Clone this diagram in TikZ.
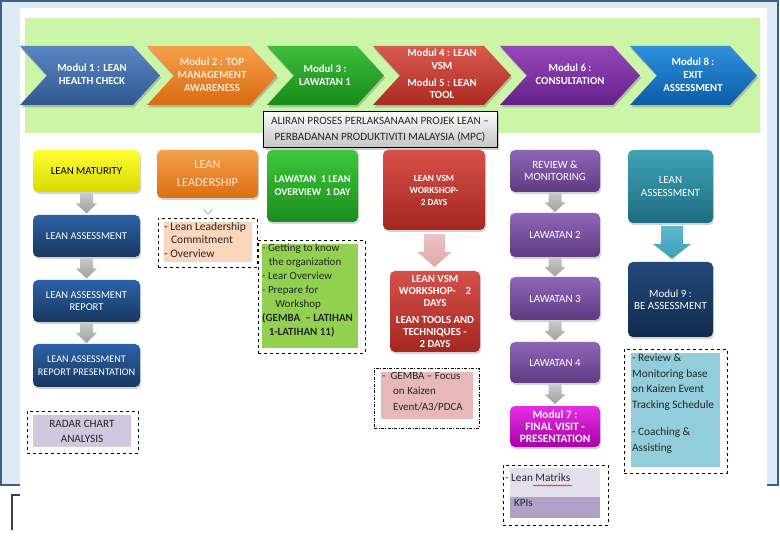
\documentclass[tikz,border=0pt]{standalone}
\usepackage{fontspec}
\setmainfont{Carlito}
\usetikzlibrary{shadows,calc,decorations.pathmorphing}
\definecolor{framebg}{HTML}{DCEAF5}
\definecolor{framebd}{HTML}{3F5F8A}
\definecolor{lgreen}{HTML}{CCF5A8}
\definecolor{txtdark}{HTML}{262626}
\newcommand\defhtml[1]{\definecolor{HTML#1}{HTML}{#1}}
\defhtml{2D62A8}\defhtml{17375E}\defhtml{F5A04A}\defhtml{DD6E12}\defhtml{FDE7D4}
\defhtml{3CC83C}\defhtml{1C8C1C}\defhtml{D6504A}\defhtml{A4271F}\defhtml{9166B8}
\defhtml{5E3A82}\defhtml{E62EE6}\defhtml{A800A8}\defhtml{3FA3B8}\defhtml{1F6C7E}
\defhtml{24497A}\defhtml{112B4D}\defhtml{C8C8C8}\defhtml{A0A0A0}\defhtml{FDE9D9}
\defhtml{FBFBFB}\defhtml{C4C4C4}\defhtml{D3C7DF}\defhtml{7F96B8}\defhtml{FAD6BC}
\defhtml{92D050}\defhtml{EBC4C3}\defhtml{DDA9A8}\defhtml{E6B9B8}\defhtml{E4DFEC}
\defhtml{B1A0C7}\defhtml{5BB8D0}\defhtml{3E9EB8}\defhtml{92CDDC}
\newcommand\fs[2]{\fontsize{#1}{#2}\selectfont}
% block arrow: name, position, shaft half width, head half width, length, head length, style
\newcommand\blockarrow[7]{%
  \coordinate (#1) at (#2);
  \begin{scope}[shift={(#1)}]
    \path[#7] (-#3,-#5/2) -- (#3,-#5/2) -- (#3,#5/2-#6) -- (#4,#5/2-#6) -- (0,#5/2)
      -- (-#4,#5/2-#6) -- (-#3,#5/2-#6) -- cycle;
  \end{scope}}
\begin{document}
\begin{tikzpicture}[x=1pt,y=-1pt,
  chev/.style={drop shadow={shadow xshift=1pt,shadow yshift=-2.5pt,opacity=0.45}},
  chevtext/.style={text=white,align=center,font=\fs{10.8}{12.8}\bfseries,inner sep=0pt},
  box/.style={rounded corners=5pt,align=center,text=white,inner sep=2pt,
    font=\fs{11}{12.5},
    drop shadow={shadow xshift=1.2pt,shadow yshift=-2pt,opacity=0.35}},
  yellowbox/.style={box,top color=yellow!80!white,bottom color=yellow!85!black,text=black,font=\fs{10.8}{12.5}},
  navybox/.style={box,top color=HTML2D62A8,bottom color=HTML17375E,font=\fs{10.5}{12.5}},
  orangebox/.style={box,top color=HTMLF5A04A,bottom color=HTMLDD6E12,text=HTMLFDE7D4,font=\fs{12.3}{18}},
  greenbox/.style={box,top color=HTML3CC83C,bottom color=HTML1C8C1C,font=\fs{10.3}{13}\bfseries},
  redbox/.style={box,top color=HTMLD6504A,bottom color=HTMLA4271F,font=\fs{9.3}{12}\bfseries},
  purplebox/.style={box,top color=HTML9166B8,bottom color=HTML5E3A82},
  magentabox/.style={box,top color=HTMLE62EE6,bottom color=HTMLA800A8,font=\fs{11.3}{12}\bfseries},
  tealbox/.style={box,top color=HTML3FA3B8,bottom color=HTML1F6C7E},
  darkbox/.style={box,top color=HTML24497A,bottom color=HTML112B4D},
  dashbox/.style={draw=black,dashed,line width=0.6pt,inner sep=0pt},
  dotdashbox/.style={draw=black,dash pattern=on 3pt off 1.5pt on 0.8pt off 1.5pt,line width=0.6pt,inner sep=0pt},
  content/.style={align=left,text=txtdark,inner sep=0pt,font=\fs{11}{14},anchor=north west},
  grayarrow/.style={top color=HTMLC8C8C8,bottom color=HTMLA0A0A0},
  pinkarrow/.style={top color=HTMLEBC4C3,bottom color=HTMLDDA9A8},
  tealarrow/.style={top color=HTML5BB8D0,bottom color=HTML3E9EB8},
]
\useasboundingbox (0,0) rectangle (780,540);
% background frame
\fill[white] (0,0) rectangle (780,540);
\draw[fill=framebg,draw=framebd,line width=1.2pt] (1,1) rectangle (778,485);
\fill[white] (20,8) rectangle (767,540);
\fill[lgreen] (25,18) rectangle (760,133);
\draw[line width=1.5pt,draw=black!75] (20,495) -- (12,495) -- (12,530);

% chevrons
\newcommand\chevpath[4]{%
  \path[chev,top color=#3,bottom color=#4] (#1,46) -- (#2,46) -- (#2+27,75.5) -- (#2,105) -- (#1,105) -- (#1+27,75.5) -- cycle;}
\definecolor{c1t}{HTML}{5B86C4}\definecolor{c1b}{HTML}{2F5891}
\definecolor{c2t}{HTML}{F6A04A}\definecolor{c2b}{HTML}{DA6A10}
\definecolor{c3t}{HTML}{3EBE3E}\definecolor{c3b}{HTML}{178A17}
\definecolor{c4t}{HTML}{DA5A50}\definecolor{c4b}{HTML}{AA2A22}
\definecolor{c5t}{HTML}{9548B8}\definecolor{c5b}{HTML}{66208A}
\definecolor{c6t}{HTML}{2E90DC}\definecolor{c6b}{HTML}{0C5CA6}
\chevpath{20}{133}{c1t}{c1b}
\chevpath{147}{250}{c2t}{c2b}
\chevpath{267}{357}{c3t}{c3b}
\chevpath{373}{484}{c4t}{c4b}
\chevpath{500}{613}{c5t}{c5b}
\chevpath{630}{730}{c6t}{c6b}
\node[chevtext] (m1) at (92,74) {Modul 1 : LEAN\\HEALTH CHECK};
\node[chevtext,text=HTMLFDE9D9] (m2) at (212,75) {Modul 2 : TOP\\MANAGEMENT\\AWARENESS};
\node[chevtext] (m3) at (325,75) {Modul 3 :\\LAWATAN 1};
\node[chevtext] (m4) at (442,74) {Modul 4 : LEAN\\VSM\\[4pt]Modul 5 : LEAN\\TOOL};
\node[chevtext] (m6) at (570,74) {Modul 6 :\\CONSULTATION};
\node[chevtext] (m8) at (693,75) {Modul 8 :\\EXIT\\ASSESSMENT};

% title
\node[draw=black,line width=1pt,top color=HTMLFBFBFB,bottom color=HTMLC4C4C4,
  minimum width=234pt,minimum height=36pt,align=center,text=txtdark,
  font=\fs{11.2}{16},inner sep=1pt,
  drop shadow={shadow xshift=1.5pt,shadow yshift=-2pt,opacity=0.4}] (title) at (380,130)
  {ALIRAN PROSES PERLAKSANAAN PROJEK LEAN –\\PERBADANAN PRODUKTIVITI MALAYSIA (MPC)};

% column 1
\node[yellowbox,minimum width=107pt,minimum height=42pt] (lm) at (86.5,171) {LEAN MATURITY};
\node[navybox,minimum width=107pt,minimum height=42pt] (la) at (86.5,236) {LEAN ASSESSMENT};
\node[navybox,minimum width=107pt,minimum height=42pt] (lar) at (86.5,301) {LEAN ASSESSMENT\\REPORT};
\node[navybox,minimum width=107pt,minimum height=43pt,font=\fs{10.2}{12.5}] (larp) at (86.5,365.5) {LEAN ASSESSMENT\\REPORT PRESENTATION};
\blockarrow{a1}{$(lm.south)!0.5!(la.north)$}{6.5}{10.5}{20}{10}{grayarrow}
\blockarrow{a2}{$(la.south)!0.5!(lar.north)$}{6.5}{10.5}{20}{10}{grayarrow}
\blockarrow{a3}{$(lar.south)!0.5!(larp.north)$}{6.5}{10.5}{20}{10}{grayarrow}
\node[dashbox,minimum width=111pt,minimum height=42pt] (radarbox) at (82.5,432) {};
\node[fill=HTMLD3C7DF,minimum width=98pt,minimum height=32pt,align=center,text=txtdark,
  font=\fs{11.2}{15},inner sep=0pt] (radar) at (82,431) {RADAR CHART\\ANALYSIS};

% column 2
\node[orangebox,minimum width=101pt,minimum height=48pt] (ll) at (207.5,174) {LEAN\\LEADERSHIP};
\draw[draw=HTML7F96B8,line width=0.6pt] (204,209.5) -- (208,214) -- (212,209.5);
\node[dashbox,minimum width=99pt,minimum height=49pt] (llbox) at (207.5,242.5) {};
\node[fill=HTMLFAD6BC,minimum width=88pt,minimum height=40pt,inner sep=0pt] (llfill) at (208,242) {};
\node[content,font=\fs{11.5}{13.5}] (lltext) at (164,222) {- Lean Leadership\\\hspace*{0.6em}Commitment\\- Overview};

% column 3
\node[greenbox,minimum width=91pt,minimum height=72pt] (lw1) at (312.5,186) {LAWATAN\ \ 1 LEAN\\OVERVIEW\ \ 1 DAY};
\node[dashbox,minimum width=107pt,minimum height=113pt] (gbox) at (311.5,296.5) {};
\node[fill=HTML92D050,minimum width=96pt,minimum height=104pt,inner sep=0pt] (gfill) at (310,296) {};
\node[content] (gtext) at (262,244) {- Getting to know\\\hspace*{0.6em}the organization\\- Lear Overview\\- Prepare for\\\hspace*{1.2em}Workshop\\\textbf{(GEMBA\ \ – LATIHAN}\\\hspace*{0.6em}\textbf{1-LATIHAN 11)}};

% column 4
\node[redbox,minimum width=102pt,minimum height=80pt] (vsm1) at (434,190) {LEAN VSM\\WORKSHOP-\\2 DAYS};
\node[redbox,minimum width=90pt,minimum height=81pt,font=\fs{10.8}{12.3}\bfseries] (vsm2) at (435,311.5) {LEAN VSM\\WORKSHOP-\ \ \ \ 2\\DAYS\\[4pt]LEAN TOOLS AND\\TECHNIQUES -\\2 DAYS};
\blockarrow{pa}{$(vsm1.south)!0.5!(vsm2.north)$}{10.5}{17}{33}{15}{pinkarrow}
\node[dotdashbox,minimum width=105pt,minimum height=60pt] (gembabox) at (426.5,398) {};
\node[fill=HTMLE6B9B8,minimum width=92pt,minimum height=47pt,inner sep=0pt] (gembafill) at (427,395.5) {};
\node[content,font=\fs{11}{15.5}] (gembatext) at (382,372) {-\ \ GEMBA – Focus\\\hspace*{1em}on Kaizen\\\hspace*{1em}Event/A3/PDCA};

% column 5
\node[purplebox,minimum width=90pt,minimum height=42pt] (rm) at (555,171) {REVIEW \&\\MONITORING};
\node[purplebox,minimum width=90pt,minimum height=44pt] (l2) at (555,235) {LAWATAN 2};
\node[purplebox,minimum width=90pt,minimum height=43pt] (l3) at (555,298.5) {LAWATAN 3};
\node[purplebox,minimum width=90pt,minimum height=41pt] (l4) at (555,362.5) {LAWATAN 4};
\node[magentabox,minimum width=90pt,minimum height=41pt] (m7) at (555,426.5) {Modul 7 :\\FINAL VISIT -\\PRESENTATION};
\blockarrow{a4}{$(rm.south)!0.5!(l2.north)$}{6.5}{10.5}{19}{9.5}{grayarrow}
\blockarrow{a5}{$(l2.south)!0.5!(l3.north)$}{6.5}{10.5}{19}{9.5}{grayarrow}
\blockarrow{a6}{$(l3.south)!0.5!(l4.north)$}{6.5}{10.5}{19}{9.5}{grayarrow}
\blockarrow{a7}{$(l4.south)!0.5!(m7.north)$}{6.5}{10.5}{19}{9.5}{grayarrow}
\node[dashbox,minimum width=105pt,minimum height=60pt] (kpibox) at (555.5,495) {};
\node[fill=HTMLE4DFEC,minimum width=90pt,minimum height=29pt,inner sep=0pt] (kpi1) at (555,482.5) {};
\node[fill=HTMLB1A0C7,minimum width=90pt,minimum height=21pt,inner sep=0pt] (kpi2) at (555,507.5) {};
\node[content,font=\fs{11.3}{12},anchor=west] (kpit1) at (505,478) {- Lean Matriks};
\node[content,font=\fs{11}{12},anchor=west] (kpit2) at (514,503) {KPIs};
\draw[red,line width=0.5pt,decorate,decoration={snake,amplitude=0.6pt,segment length=2.5pt}] (533,485.5) -- (572,485.5);

% column 6
\node[tealbox,minimum width=85pt,minimum height=73pt] (ta) at (670.5,186.5) {LEAN\\ASSESSMENT};
\node[darkbox,minimum width=85pt,minimum height=75pt] (m9) at (670.5,299.5) {Modul 9 :\\BE ASSESSMENT};
\blockarrow{ta2}{$(ta.south)!0.5!(m9.north)+(1.5,0)$}{11}{19}{33}{15}{tealarrow}
\node[dashbox,minimum width=103pt,minimum height=124pt] (rvbox) at (675.5,411) {};
\node[fill=HTML92CDDC,minimum width=89pt,minimum height=114pt,inner sep=0pt] (rvfill) at (675.5,410) {};
\node[content,font=\fs{11.3}{15.5}] (rvtext) at (632,354) {- Review \&\\Monitoring base\\on Kaizen Event\\Tracking Schedule\\[12pt]- Coaching \&\\Assisting};
\end{tikzpicture}
\end{document}
